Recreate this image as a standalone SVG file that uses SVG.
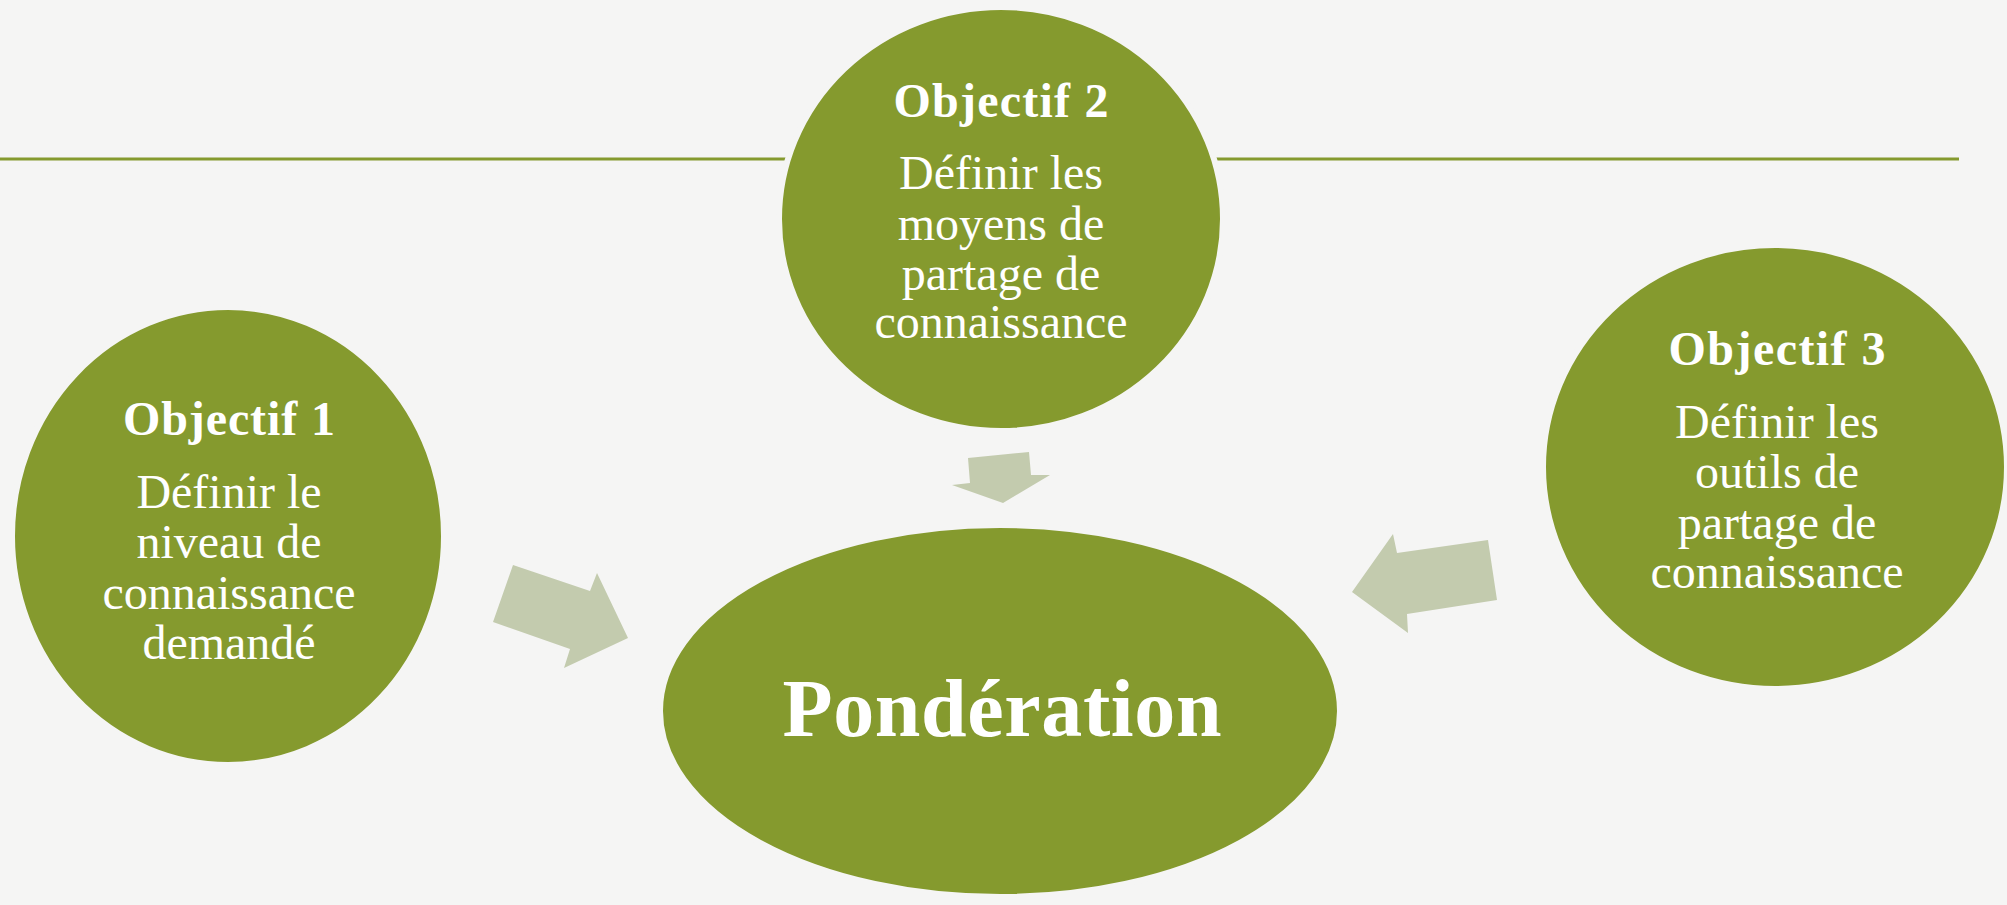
<svg xmlns="http://www.w3.org/2000/svg" width="2007" height="905" viewBox="0 0 2007 905">
<style>
.node{fill:#859a2e;stroke:#f5f5f4;stroke-width:6}
.arrow{fill:#c3cbae}
.t{font-family:"Liberation Serif",serif;fill:#ffffff;text-anchor:middle}
.h{font-weight:bold;font-size:48px}
.b{font-size:48px}
.p{font-weight:bold;font-size:82px}
</style>
<rect width="2007" height="905" fill="#f5f5f4"/>
<line x1="0" y1="159" x2="1959" y2="159" stroke="#859a2e" stroke-width="3"/>
<g id="connectors">
<polygon class="arrow" points="968,458 1029,452 1031,475 1050,475 1003,503 952,485 970,483"/>
<polygon class="arrow" points="513,565 590,591 597,573 628,638 564,668 570,649 493,622"/>
<polygon class="arrow" points="1488,540 1497,600 1407,614 1408,633 1352,592 1393,534 1397,553"/>
</g>
<g id="node-objectif1">
<ellipse class="node" cx="228" cy="536" rx="216" ry="229"/>
<text class="t h" x="229" y="435" textLength="212" lengthAdjust="spacing">Objectif 1</text>
<text class="t b" x="229" y="508">Définir le</text>
<text class="t b" x="229" y="558">niveau de</text>
<text class="t b" x="229" y="609">connaissance</text>
<text class="t b" x="229" y="659">demandé</text>
</g>
<g id="node-objectif2">
<ellipse class="node" cx="1001" cy="219" rx="222" ry="212"/>
<text class="t h" x="1001" y="117" textLength="215" lengthAdjust="spacing">Objectif 2</text>
<text class="t b" x="1001" y="189">Définir les</text>
<text class="t b" x="1001" y="240">moyens de</text>
<text class="t b" x="1001" y="290">partage de</text>
<text class="t b" x="1001" y="338">connaissance</text>
</g>
<g id="node-objectif3">
<ellipse class="node" cx="1775" cy="467" rx="232" ry="222"/>
<text class="t h" x="1777" y="365" textLength="217" lengthAdjust="spacing">Objectif 3</text>
<text class="t b" x="1777" y="438">Définir les</text>
<text class="t b" x="1777" y="488">outils de</text>
<text class="t b" x="1777" y="539">partage de</text>
<text class="t b" x="1777" y="588">connaissance</text>
</g>
<g id="node-ponderation">
<ellipse class="node" cx="1000" cy="711" rx="340" ry="186"/>
<text class="t p" x="1002" y="736" textLength="439" lengthAdjust="spacing">Pondération</text>
</g>
</svg>
